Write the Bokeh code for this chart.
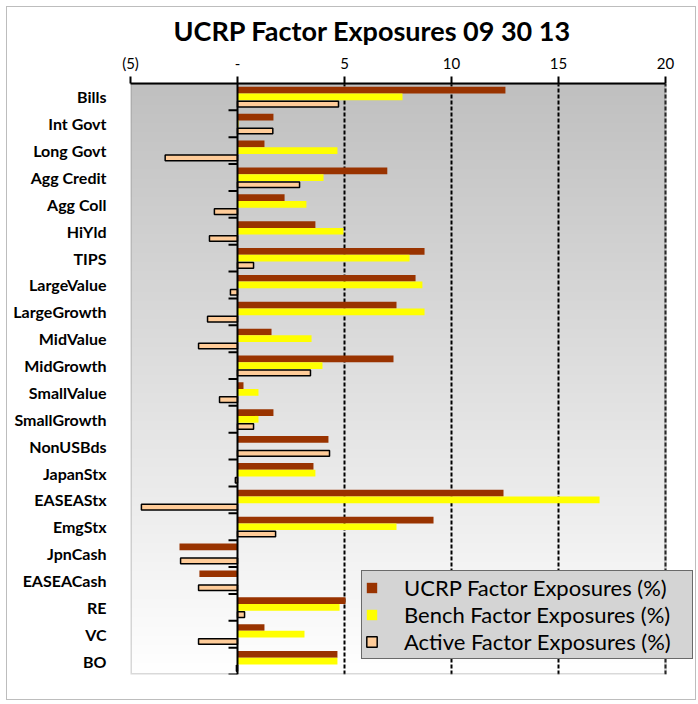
import numpy as np
from bokeh.plotting import figure
from bokeh.models import (FactorRange, Range1d, FixedTicker, ColumnDataSource, Span,
                          Legend, LegendItem, BoxAnnotation)
from bokeh.transform import dodge
from bokeh.embed import file_html
from bokeh.resources import INLINE

categories = ["Bills", "Int Govt", "Long Govt", "Agg Credit", "Agg Coll", "HiYld", "TIPS",
              "LargeValue", "LargeGrowth", "MidValue", "MidGrowth", "SmallValue", "SmallGrowth",
              "NonUSBds", "JapanStx", "EASEAStx", "EmgStx", "JpnCash", "EASEACash", "RE", "VC", "BO"]
ucrp = [12.52, 1.68, 1.26, 7.00, 2.20, 3.64, 8.74, 8.32, 7.43, 1.59, 7.29, 0.28, 1.68,
        4.25, 3.55, 12.43, 9.16, -2.71, -1.78, 5.05, 1.26, 4.67]
bench = [7.71, 0.05, 4.67, 4.02, 3.22, 4.95, 8.04, 8.64, 8.74, 3.46, 3.97, 0.98, 0.98,
         0.0, 3.64, 16.92, 7.43, 0.0, 0.0, 4.77, 3.13, 4.67]
active = [4.72, 1.65, -3.38, 2.90, -1.08, -1.31, 0.75, -0.33, -1.40, -1.82, 3.41, -0.84, 0.75,
          4.30, -0.10, -4.49, 1.78, -2.66, -1.82, 0.33, -1.82, -0.05]
x_min, x_max = -5, 20
x_ticks = [-5, 0, 5, 10, 15, 20]
x_tick_labels = ["(5)", "-", "5", "10", "15", "20"]
grid_ticks = [5, 10, 15, 20]

source = ColumnDataSource(dict(cat=categories, ucrp=ucrp, bench=bench, active=active,
                               zero=[0] * len(categories), tick=[-0.42] * len(categories)))

FONT = "Lato"
PLOT_W = 535            # pixels for the -5..20 value span
FRAME_W = 565           # extra room on the right so the legend can overhang the plot area
x_end = x_min + (x_max - x_min) * FRAME_W / PLOT_W

p = figure(frame_width=FRAME_W, frame_height=591,
           y_range=FactorRange(factors=categories[::-1]), x_range=Range1d(x_min, x_end),
           x_axis_location="above", output_backend="svg", toolbar_location=None,
           min_border_left=123, min_border_right=0, min_border_top=76, min_border_bottom=25,
           title="UCRP Factor  Exposures 09 30 13")
p.styles = {"border": "1px solid #bdbdbd", "margin": "6px 0px 0px 6px"}

# background gradient inside the plot area (vertical grey -> white)
n = 256
lv = np.linspace(255, 192, n).astype(np.uint32)
img = np.empty((n, 1), dtype=np.uint32)
img[:, 0] = (np.uint32(255) << 24) | (lv << 16) | (lv << 8) | lv
bg_src = ColumnDataSource(dict(image=[img], x=[x_min], y=[categories[-1]], dw=[x_max - x_min],
                               dh=[len(categories)]))
p.image_rgba(image="image", x="x", y=dodge("y", -0.5, range=p.y_range), dw="dw", dh="dh",
             source=bg_src, level="image")

# plot-area border
p.add_layout(BoxAnnotation(left=x_min, right=x_max, fill_alpha=0, line_color="#808080",
                           line_width=3, level="underlay"))

# title
p.title.text_font = FONT
p.title.text_font_size = "27px"
p.title.text_font_style = "bold"
p.title.text_color = "black"
p.title.align = "left"
p.title.offset = 43
p.title.standoff = 8

# frame
p.outline_line_color = None
p.background_fill_color = "white"

# x axis (top)
xa = p.xaxis[0]
xa.bounds = (x_min, x_max)
xa.ticker = FixedTicker(ticks=x_ticks)
xa.major_label_overrides = {t: l for t, l in zip(x_ticks, x_tick_labels)}
xa.axis_line_color = "black"
xa.axis_line_width = 2
xa.major_tick_line_color = "black"
xa.major_tick_line_width = 2
xa.major_tick_out = 7
xa.major_tick_in = 0
xa.minor_tick_line_color = None
xa.major_label_text_font = FONT
xa.major_label_text_font_size = "15px"
xa.major_label_text_color = "black"
xa.major_label_standoff = 5

# y axis (labels only)
ya = p.yaxis[0]
ya.axis_line_color = None
ya.major_tick_line_color = None
ya.minor_tick_line_color = None
ya.major_label_text_font = FONT
ya.major_label_text_font_size = "16px"
ya.major_label_text_font_style = "bold"
ya.major_label_text_color = "black"
ya.major_label_standoff = 18

# grid
p.ygrid.grid_line_color = None
p.xgrid.ticker = FixedTicker(ticks=grid_ticks)
p.xgrid.grid_line_color = "black"
p.xgrid.grid_line_width = 2
p.xgrid.grid_line_dash = "4 2"

# bars
r_u = p.hbar(y=dodge("cat", 0.25, range=p.y_range), left="zero", right="ucrp", height=0.25,
             source=source, fill_color="#993300", line_color=None)
r_b = p.hbar(y=dodge("cat", 0.0, range=p.y_range), left="zero", right="bench", height=0.25,
             source=source, fill_color="#FFFF00", line_color=None)
r_a = p.hbar(y=dodge("cat", -0.27, range=p.y_range), left="zero", right="active", height=0.21,
             source=source, fill_color="#FFCC99", line_color="black", line_width=1.5)

# zero axis line and category ticks
p.add_layout(Span(location=0, dimension="height", line_color="black", line_width=2))
p.segment(x0="tick", x1="zero", y0=dodge("cat", -0.5, range=p.y_range),
          y1=dodge("cat", -0.5, range=p.y_range), source=source,
          line_color="black", line_width=2)

legend = Legend(items=[LegendItem(label="UCRP Factor Exposures (%)", renderers=[r_u]),
                       LegendItem(label="Bench Factor Exposures (%)", renderers=[r_b]),
                       LegendItem(label="Active Factor Exposures (%)", renderers=[r_a])],
                location=(231, 15))
legend.label_text_font = FONT
legend.label_text_font_size = "22px"
legend.label_text_line_height = 1.0
legend.label_text_color = "black"
legend.glyph_width = 13
legend.glyph_height = 13
legend.label_height = 22
legend.label_width = 285
legend.spacing = 0
legend.padding = 3
legend.label_standoff = 26
legend.border_line_color = "black"
legend.border_line_width = 1.5
legend.background_fill_color = "#d4d4d4"
legend.background_fill_alpha = 1.0
legend.margin = 0
p.add_layout(legend)

open("out.html", "w").write(file_html(p, INLINE))
